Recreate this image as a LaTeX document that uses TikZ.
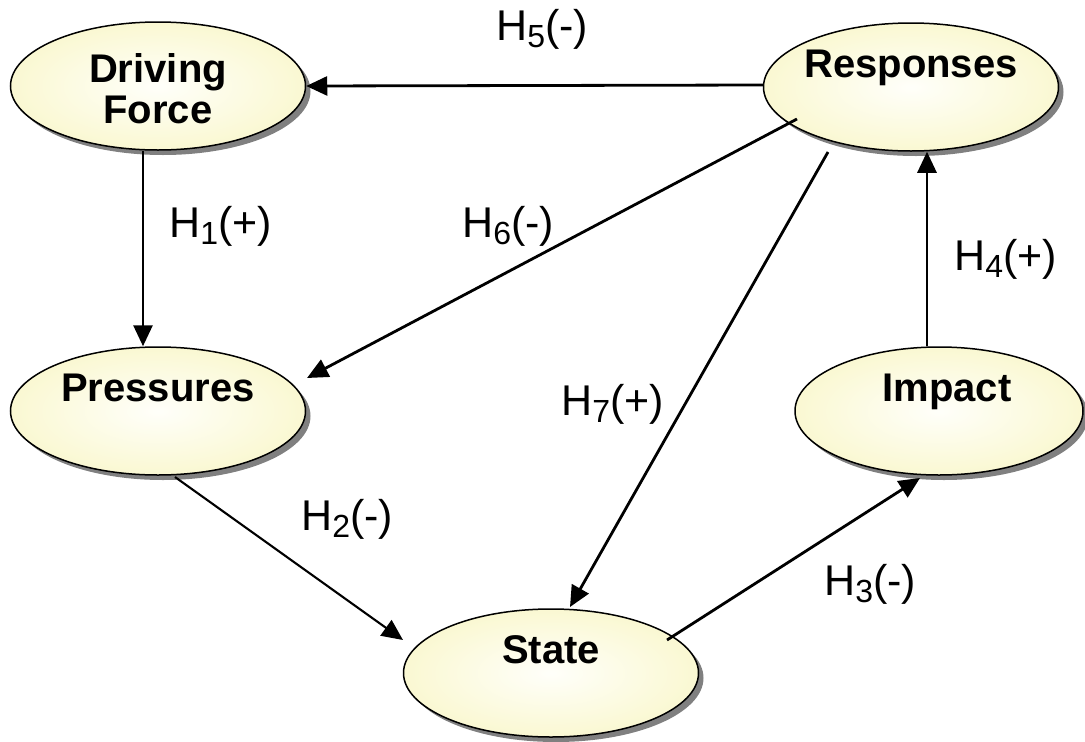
\documentclass[tikz,border=0pt]{standalone}
\usepackage{fontspec}
\setmainfont{Liberation Sans}
\usetikzlibrary{shapes.geometric,arrows.meta,shadows}
\definecolor{eggc}{RGB}{250,248,210}
\definecolor{eggin}{RGB}{255,255,250}
\newcommand{\hsub}[1]{\raisebox{-7pt}{\fontsize{32}{32}\selectfont #1}}
\begin{document}
\begin{tikzpicture}[x=1pt,y=-1pt,
  egg/.style={ellipse, draw=black, line width=1.5pt, minimum width=295pt,
    minimum height=128pt, inner sep=0pt, inner color=eggin, outer color=eggc,
    drop shadow={shadow xshift=5pt, shadow yshift=-5pt, fill=black!50, opacity=1}},
  eggtext/.style={font=\fontsize{40}{41}\selectfont\bfseries, inner sep=0pt, align=center},
  lab/.style={font=\fontsize{43}{43}\selectfont, inner sep=0pt, anchor=base west},
  link/.style={line width=2.8pt, -{Triangle[length=21pt,width=19pt]}}]
\useasboundingbox (0,0) rectangle (1085,742);
% ellipses
\node[egg] (df) at (158,86) {};
\node[egg] (resp) at (911,87) {};
\node[egg] (pr) at (158,411) {};
\node[egg, minimum width=288pt] (imp) at (939,411) {};
\node[egg] (st) at (551,673) {};
% texts
\node[eggtext] (dft) at ([yshift=-3pt]df.center) {Driving\\Force};
\node[eggtext, anchor=base] (respt) at ([yshift=10pt]resp.center) {Responses};
\node[eggtext, anchor=base] (prt) at ([yshift=10pt]pr.center) {Pressures};
\node[eggtext, anchor=base] (impt) at ([shift={(8,-10)}]imp.center) {Impact};
\node[eggtext, anchor=base] (stt) at ([yshift=10pt]st.center) {State};
% connectors
\draw[link] ([shift={(0,-2)}]resp.west) -- ([shift={(0,0)}]df.east);
\draw[link] ([xshift=-15pt]df.south) -- ([xshift=-15pt]pr.north);
\draw[link] ([shift={(-114,32)}]resp.center) -- ([shift={(149,-33)}]pr.center);
\draw[link] ([shift={(-83,65)}]resp.center) -- ([shift={(19,-66)}]st.center);
\draw[link, line width=2.1pt] ([shift={(17,66)}]pr.center) -- ([shift={(-148,-33)}]st.center);
\draw[link] ([shift={(116,-33)}]st.center) -- ([shift={(-19,67)}]imp.center);
\draw[link] ([xshift=-12pt]imp.north) -- ([xshift=16pt]resp.south);
% labels
\node[lab] (h5) at (496,40) {H\hsub{5}(-)};
\node[lab] (h1) at (169,237) {H\hsub{1}(+)};
\node[lab] (h6) at (462,237) {H\hsub{6}(-)};
\node[lab] (h4) at (954,270) {H\hsub{4}(+)};
\node[lab] (h7) at (561,415) {H\hsub{7}(+)};
\node[lab] (h2) at (301,530) {H\hsub{2}(-)};
\node[lab] (h3) at (824,595) {H\hsub{3}(-)};
\end{tikzpicture}
\end{document}
